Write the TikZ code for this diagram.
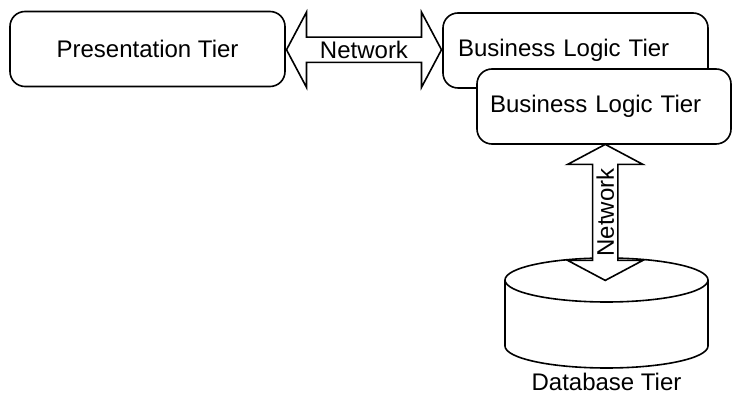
\documentclass[tikz,border=0pt]{standalone}
\usepackage{fontspec}
\setmainfont{Liberation Sans}
\usepackage{tikz}
\usetikzlibrary{shapes.arrows,calc,positioning}

\newcommand\tierfont{\fontsize{24}{28}\selectfont}

\begin{document}
\begin{tikzpicture}[x=1pt,y=-1pt,
  tier/.style={draw,rounded corners=15pt,line width=1.6pt,fill=white,
               minimum height=75pt,font=\tierfont},
  net/.style={double arrow,draw,line width=1.6pt,fill=white,
              double arrow tip angle=124,double arrow head extend=25pt,
              inner xsep=0pt,inner ysep=3pt,font=\tierfont},
  dbline/.style={line width=1.6pt},
  dbend/.style={x radius=101.5pt,y radius=22pt}]

  \useasboundingbox (0,0) rectangle (732,395);

  \node[tier,minimum width=275pt] (pres) at (147.5,49) {Presentation Tier};
  \node[tier,minimum width=265pt,text width=235pt,align=left] (bl1) at (575.5,50.5) {Business Logic Tier};
  \node[tier,minimum width=254pt,text width=228pt,align=left] (bl2) at (604,106.5) {Business Logic Tier};

  \node[net,minimum height=155pt] (net1) at ($(pres.east)!0.5!(bl1.west)$) {Network};

  % database drum
  \node[inner sep=0pt,outer sep=0pt,minimum width=203pt,minimum height=110pt] (db) at (606.5,313) {};
  \draw[dbline,fill=white] ([yshift=-22pt]db.north west) -- ([yshift=22pt]db.south west)
    arc[start angle=180,end angle=360,dbend] -- ([yshift=-22pt]db.north east)
    arc[start angle=0,end angle=180,dbend] -- cycle;
  \draw[dbline] ([yshift=-22pt]db.north west) arc[start angle=180,end angle=360,dbend];
  \node[font=\tierfont,inner sep=0pt,below=5pt of db] (dbl) {Database Tier};

  \node[net,rotate=90,minimum height=136pt] (net2) at ($(bl2.south)!0.5!(db.north)+(0,11)$) {Network};
\end{tikzpicture}
\end{document}
